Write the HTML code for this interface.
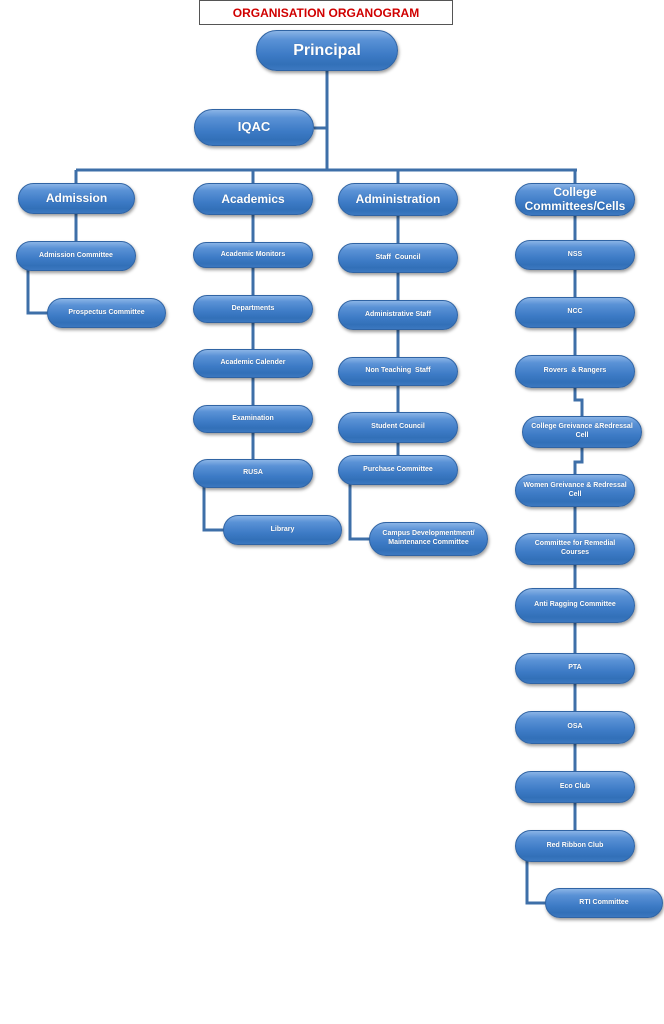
<!DOCTYPE html>
<html><head><meta charset="utf-8">
<style>
html,body{margin:0;padding:0;background:#fff;}
body{width:664px;height:1024px;position:relative;overflow:hidden;font-family:"Liberation Sans",sans-serif;}
.n{position:absolute;box-sizing:border-box;border-radius:999px;
background:linear-gradient(180deg,#8ab4e6 0%,#5a92d6 22%,#3d7bc6 60%,#3270b8 85%,#3c78c0 100%);
border:1px solid #3064a4;box-shadow:1px 2px 3px rgba(0,0,0,0.4);
color:#fff;font-weight:bold;display:flex;align-items:center;justify-content:center;text-align:center;
font-size:7px;line-height:1.25;text-shadow:0 0 1px rgba(0,0,0,0.3);}
.big{font-size:13px;}
svg{position:absolute;left:0;top:0;}
.title{position:absolute;left:199px;top:0;width:254px;height:25px;box-sizing:border-box;border:1px solid #555;
color:#d00000;font-weight:bold;font-size:12px;display:flex;align-items:center;justify-content:center;}
</style></head><body>
<svg width="664" height="1024" fill="none" stroke="#3e6fa8" stroke-width="3">
<path d="M327 70 V170 M314 128 H327 M76 170 H577 M76 170 V184 M253 170 V184 M398 170 V184 M575 170 V184"/>
<path d="M76 214 V242 M28 270 V313 H48"/>
<path d="M253 214 V460 M204 487 V530 H224"/>
<path d="M398 215 V456 M350 484 V539 H370"/>
<path d="M575 215 V387 M575 387 V400 H582 V417 M582 447 V462 H575 V475 M575 506 V860 M527 861 V903 H546"/>
</svg>
<div class="title">ORGANISATION ORGANOGRAM</div>
<div class="n" style="left:256px;top:30px;width:142px;height:41px;font-size:16px;">Principal</div>
<div class="n big" style="left:194px;top:109px;width:120px;height:37px;">IQAC</div>
<div class="n big" style="left:18px;top:183px;width:117px;height:31px;font-size:12px;">Admission</div>
<div class="n big" style="left:193px;top:183px;width:120px;height:32px;font-size:12px;">Academics</div>
<div class="n big" style="left:338px;top:183px;width:120px;height:33px;font-size:12px;">Administration</div>
<div class="n big" style="left:515px;top:183px;width:120px;height:33px;font-size:12px;line-height:1.1;">College<br>Committees/Cells</div>

<div class="n" style="left:16px;top:241px;width:120px;height:30px;">Admission Committee</div>
<div class="n" style="left:47px;top:298px;width:119px;height:30px;">Prospectus Committee</div>

<div class="n" style="left:193px;top:242px;width:120px;height:26px;">Academic Monitors</div>
<div class="n" style="left:193px;top:295px;width:120px;height:28px;">Departments</div>
<div class="n" style="left:193px;top:349px;width:120px;height:29px;">Academic Calender</div>
<div class="n" style="left:193px;top:405px;width:120px;height:28px;">Examination</div>
<div class="n" style="left:193px;top:459px;width:120px;height:29px;">RUSA</div>
<div class="n" style="left:223px;top:515px;width:119px;height:30px;">Library</div>

<div class="n" style="left:338px;top:243px;width:120px;height:30px;">Staff &nbsp;Council</div>
<div class="n" style="left:338px;top:300px;width:120px;height:30px;">Administrative Staff</div>
<div class="n" style="left:338px;top:357px;width:120px;height:29px;">Non Teaching &nbsp;Staff</div>
<div class="n" style="left:338px;top:412px;width:120px;height:31px;">Student Council</div>
<div class="n" style="left:338px;top:455px;width:120px;height:30px;">Purchase Committee</div>
<div class="n" style="left:369px;top:522px;width:119px;height:34px;">Campus Developmentment/<br>Maintenance Committee</div>

<div class="n" style="left:515px;top:240px;width:120px;height:30px;">NSS</div>
<div class="n" style="left:515px;top:297px;width:120px;height:31px;">NCC</div>
<div class="n" style="left:515px;top:355px;width:120px;height:33px;">Rovers &nbsp;&amp; Rangers</div>
<div class="n" style="left:522px;top:416px;width:120px;height:32px;">College Greivance &amp;Redressal<br>Cell</div>
<div class="n" style="left:515px;top:474px;width:120px;height:33px;">Women Greivance &amp; Redressal<br>Cell</div>
<div class="n" style="left:515px;top:533px;width:120px;height:32px;">Committee for Remedial<br>Courses</div>
<div class="n" style="left:515px;top:588px;width:120px;height:35px;">Anti Ragging Committee</div>
<div class="n" style="left:515px;top:653px;width:120px;height:31px;">PTA</div>
<div class="n" style="left:515px;top:711px;width:120px;height:33px;">OSA</div>
<div class="n" style="left:515px;top:771px;width:120px;height:32px;">Eco Club</div>
<div class="n" style="left:515px;top:830px;width:120px;height:32px;">Red Ribbon Club</div>
<div class="n" style="left:545px;top:888px;width:118px;height:30px;">RTI Committee</div>
</body></html>
